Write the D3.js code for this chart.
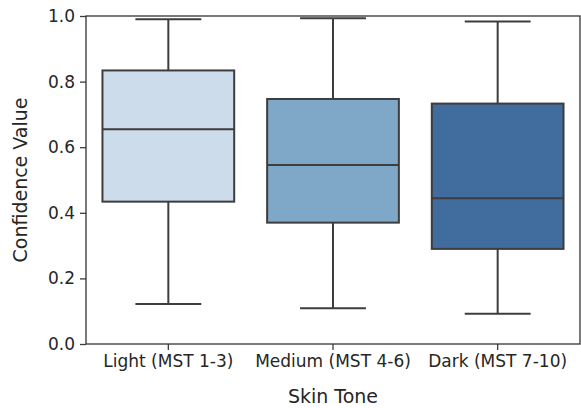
<!DOCTYPE html>
<html>
<meta charset="utf-8">
<title>Confidence by skin tone</title>
<style>
body { margin: 0; background: #fff; overflow: hidden; }
text { font-family: "DejaVu Sans", sans-serif; fill: #262626; }
</style>
<script src="https://cdnjs.cloudflare.com/ajax/libs/d3/7.8.5/d3.min.js"></script>
<body>
<div id="chart"></div>
<script>
// data
var categories = ["Light (MST 1-3)", "Medium (MST 4-6)", "Dark (MST 7-10)"];
var whiskerLow  = [0.122, 0.109, 0.092];
var q1          = [0.434, 0.370, 0.290];
var median      = [0.655, 0.546, 0.444];
var q3          = [0.834, 0.747, 0.733];
var whiskerHigh = [0.990, 0.993, 0.983];
var yTicks = [0.0, 0.2, 0.4, 0.6, 0.8, 1.0];
var fills = ["#cddceb", "#7fa7c8", "#416c9e"];

var margin = {top: 16, right: 1, bottom: 64, left: 86},
    width = 581 - margin.left - margin.right,
    height = 408 - margin.top - margin.bottom;

var svg = d3.select("#chart").append("svg")
    .attr("width", 581)
    .attr("height", 408)
    .style("display", "block")
  .append("g")
    .attr("transform", "translate(" + margin.left + "," + margin.top + ")");

var x = d3.scaleBand().domain(categories).range([0, width]);
var y = d3.scaleLinear().domain([0, 1]).range([height, 0]);

var line = "#3d3d3d";
var boxW = x.bandwidth() * 0.8;

// y axis
var yAxis = svg.append("g")
    .call(d3.axisLeft(y).tickValues(yTicks).tickFormat(d3.format(".1f")).tickSize(6).tickPadding(5));
yAxis.select(".domain").remove();
yAxis.selectAll("line").attr("stroke", line).attr("stroke-width", 1.3);
yAxis.selectAll("text").style("font-size", "17px").attr("fill", "#262626");

// x axis
var xAxis = svg.append("g")
    .attr("transform", "translate(0," + height + ")")
    .call(d3.axisBottom(x).tickSize(6).tickPadding(5));
xAxis.select(".domain").remove();
xAxis.selectAll("line").attr("stroke", line).attr("stroke-width", 1.3);
xAxis.selectAll("text").style("font-size", "17px").attr("fill", "#262626");

// boxes
var rows = categories.map(function(c, i) {
  return {cat: c, lo: whiskerLow[i], q1: q1[i], med: median[i], q3: q3[i], hi: whiskerHigh[i], fill: fills[i]};
});

var g = svg.selectAll(".box").data(rows).enter().append("g")
    .attr("class", "box")
    .attr("transform", function(d) { return "translate(" + (x(d.cat) + x.bandwidth() / 2) + ",0)"; });

// whiskers
g.append("line").attr("x1", 0).attr("x2", 0)
    .attr("y1", function(d) { return y(d.hi); }).attr("y2", function(d) { return y(d.q3); })
    .attr("stroke", line).attr("stroke-width", 2);
g.append("line").attr("x1", 0).attr("x2", 0)
    .attr("y1", function(d) { return y(d.q1); }).attr("y2", function(d) { return y(d.lo); })
    .attr("stroke", line).attr("stroke-width", 2);
// caps
g.append("line").attr("x1", -boxW / 4).attr("x2", boxW / 4)
    .attr("y1", function(d) { return y(d.hi); }).attr("y2", function(d) { return y(d.hi); })
    .attr("stroke", line).attr("stroke-width", 2);
g.append("line").attr("x1", -boxW / 4).attr("x2", boxW / 4)
    .attr("y1", function(d) { return y(d.lo); }).attr("y2", function(d) { return y(d.lo); })
    .attr("stroke", line).attr("stroke-width", 2);
// box
g.append("rect")
    .attr("x", -boxW / 2).attr("width", boxW)
    .attr("y", function(d) { return y(d.q3); })
    .attr("height", function(d) { return y(d.q1) - y(d.q3); })
    .attr("fill", function(d) { return d.fill; })
    .attr("stroke", line).attr("stroke-width", 2);
// median
g.append("line").attr("x1", -boxW / 2).attr("x2", boxW / 2)
    .attr("y1", function(d) { return y(d.med); }).attr("y2", function(d) { return y(d.med); })
    .attr("stroke", line).attr("stroke-width", 2);

// frame
svg.append("rect")
    .attr("x", 0).attr("y", 0).attr("width", width).attr("height", height)
    .attr("fill", "none").attr("stroke", "#333").attr("stroke-width", 1.3);

// axis labels
svg.append("text")
    .attr("x", width / 2).attr("y", height + 59)
    .attr("text-anchor", "middle")
    .style("font-size", "19px")
    .text("Skin Tone");

svg.append("text")
    .attr("transform", "rotate(-90)")
    .attr("x", -height / 2).attr("y", -59)
    .attr("text-anchor", "middle")
    .style("font-size", "19px")
    .text("Confidence Value");
</script>
</body>
</html>
